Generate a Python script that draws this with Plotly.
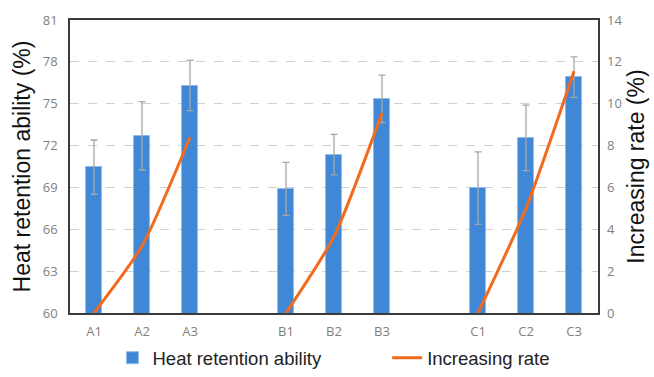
import plotly.graph_objects as go

categories = ["A1", "A2", "A3", "B1", "B2", "B3", "C1", "C2", "C3"]
heat_retention = [70.45, 72.7, 76.3, 68.9, 71.35, 75.35, 68.95, 72.55, 76.9]
heat_error = [1.95, 2.45, 1.8, 1.9, 1.45, 1.7, 2.6, 2.35, 1.45]
increasing_rate = [0, 3.2, 8.4, 0, 3.65, 9.55, 0, 5.0, 11.55]
left_ticks = [60, 63, 66, 69, 72, 75, 78, 81]
right_ticks = [0, 2, 4, 6, 8, 10, 12, 14]

# positions: leave one empty slot between groups
pos = [i + i // 3 for i in range(len(categories))]

# line positions with breaks between groups
line_x, line_y = [], []
for i, (p, v) in enumerate(zip(pos, increasing_rate)):
    if i > 0 and i % 3 == 0:
        line_x.append(p - 1)
        line_y.append(None)
    line_x.append(p)
    line_y.append(v)

fig = go.Figure()
fig.add_trace(go.Bar(
    x=pos, y=heat_retention, name="Heat retention ability",
    marker=dict(color="#4088d6", line=dict(color="#8fbbea", width=1)),
    width=0.32, legend="legend",
    error_y=dict(type="data", array=heat_error, visible=True,
                 color="#a6a6a6", thickness=1.3, width=3.5),
))
fig.add_trace(go.Scatter(
    x=line_x, y=line_y, name="Increasing rate", yaxis="y2", legend="legend2",
    mode="lines", line=dict(color="#f26b1d", width=3, shape="spline", smoothing=0.6),
    connectgaps=False,
))

tick_font = dict(family="Open Sans, Lato, sans-serif", size=13, color="#7f7f7f")
title_font = dict(family="Liberation Sans, Arial, sans-serif", size=23, color="#111111")
legend_font = dict(family="Liberation Sans, Arial, sans-serif", size=18.5, color="#222222")

fig.update_layout(
    width=654, height=377,
    margin=dict(l=70, r=56, t=20, b=64),
    paper_bgcolor="white", plot_bgcolor="white",
    bargap=0,
    showlegend=True,
    legend=dict(orientation="h", xref="container", yref="container",
                x=0.172, xanchor="left", y=0.05, yanchor="middle", font=legend_font),
    legend2=dict(orientation="h", xref="container", yref="container",
                 x=0.592, xanchor="left", y=0.05, yanchor="middle", font=legend_font),
    xaxis=dict(range=[-0.5, 10.5], tickmode="array", tickvals=pos, ticktext=categories,
               tickfont=tick_font, showgrid=False, showline=True, mirror=True,
               linecolor="#3a3a3a", linewidth=1.5, ticks="", zeroline=False,
               ticklabelstandoff=6, automargin=False),
    yaxis=dict(range=[60, 81], tickmode="array", tickvals=left_ticks, tickfont=tick_font,
               title=dict(text="Heat retention ability (%)", font=title_font, standoff=6),
               showgrid=True, gridcolor="#d0d0d0", griddash="dash", gridwidth=1,
               showline=True, mirror=True, linecolor="#3a3a3a", linewidth=1.5,
               ticks="", zeroline=False, ticklabelstandoff=8, automargin=False),
    yaxis2=dict(range=[0, 14], tickmode="array", tickvals=right_ticks, tickfont=tick_font,
                title=dict(text="Increasing rate (%)", font=title_font, standoff=6),
                overlaying="y", side="right", showgrid=False, showline=False,
                ticks="", zeroline=False, ticklabelstandoff=8, automargin=False),
)

fig.write_html("out.html", config={"displayModeBar": False},
               post_script="document.body.style.margin='0';")
